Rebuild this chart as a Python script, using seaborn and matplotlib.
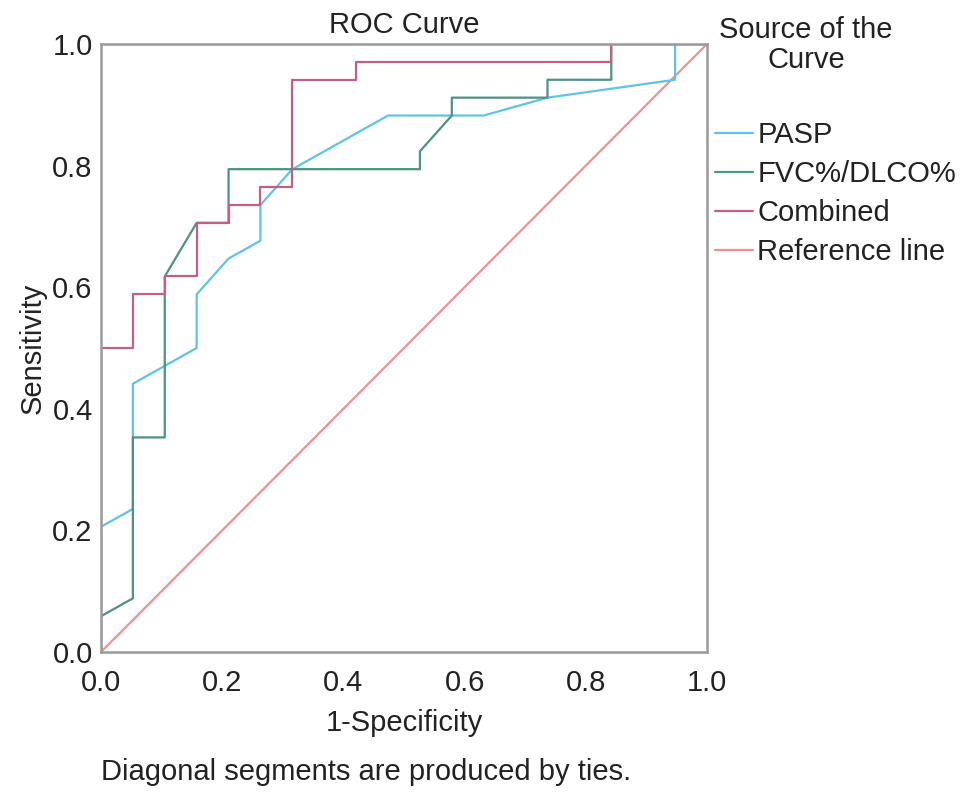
import matplotlib
matplotlib.use("Agg")
import matplotlib.pyplot as plt
import numpy as np
import pandas as pd
import seaborn as sns

# ROC step points, as counts of negatives (19) and positives (34)
n_neg = 19
n_pos = 34

pasp_fp = [0, 0, 1, 1, 3, 3, 4, 5, 5, 6, 9, 12, 14, 18, 18, 19]
pasp_tp = [0, 7, 8, 15, 17, 20, 22, 23, 25, 27, 30, 30, 31, 32, 34, 34]

fvc_fp = [0, 0, 1, 1, 2, 2, 3, 4, 4, 10, 10, 11, 11, 14, 14, 16, 16, 19]
fvc_tp = [0, 2, 3, 12, 12, 21, 24, 24, 27, 27, 28, 30, 31, 31, 32, 32, 34, 34]

comb_fp = [0, 0, 1, 1, 2, 2, 3, 3, 4, 4, 5, 5, 6, 6, 8, 8, 16, 16, 19]
comb_tp = [0, 17, 17, 20, 20, 21, 21, 24, 24, 25, 25, 26, 26, 32, 32, 33, 33, 34, 34]

ref_x = [0.0, 1.0]
ref_y = [0.0, 1.0]

labels = ["PASP", "FVC%/DLCO%", "Combined", "Reference line"]
colors = ["#5fc3e4", "#4d9282", "#c4607f", "#f29090"]

frames = []
for name, fp, tp in [("PASP", pasp_fp, pasp_tp),
                     ("FVC%/DLCO%", fvc_fp, fvc_tp),
                     ("Combined", comb_fp, comb_tp)]:
    frames.append(pd.DataFrame({"x": np.array(fp) / n_neg,
                                "y": np.array(tp) / n_pos,
                                "curve": name}))
frames.append(pd.DataFrame({"x": ref_x, "y": ref_y, "curve": "Reference line"}))
df = pd.concat(frames, ignore_index=True)

sns.set_style("white")
plt.rcParams['font.family'] = ['Liberation Sans', 'DejaVu Sans']
fs = 21
txt = "#222222"

fig = plt.figure(figsize=(9.69, 8), dpi=100)
ax = fig.add_axes([0.1042, 0.185, 0.6254, 0.76])

# reference line first so the curves sit on top
for name in ["Reference line", "PASP", "FVC%/DLCO%", "Combined"]:
    sub = df[df["curve"] == name]
    sns.lineplot(data=sub, x="x", y="y", sort=False, estimator=None,
                 color=colors[labels.index(name)], linewidth=1.6, ax=ax,
                 label=name)

ax.set_xlim(0, 1)
ax.set_ylim(0, 1)
ticks = [0.0, 0.2, 0.4, 0.6, 0.8, 1.0]
ax.set_xticks(ticks)
ax.set_yticks(ticks)
ax.set_xticklabels([f"{t:.1f}" for t in ticks])
ax.set_yticklabels([f"{t:.1f}" for t in ticks])
ax.tick_params(axis="both", length=0, labelsize=fs, colors=txt)
ax.tick_params(axis="x", pad=12)
ax.tick_params(axis="y", pad=6)

for sp in ax.spines.values():
    sp.set_color("#9a9a9a")
    sp.set_linewidth(1.8)

ax.set_xlabel("1-Specificity", fontsize=fs, color=txt, labelpad=9)
ax.set_ylabel("Sensitivity", fontsize=fs, color=txt, labelpad=4)
ax.set_title("ROC Curve", fontsize=fs, color=txt, pad=8)

fig.text(0.378, 0.035, "Diagonal segments are produced by ties.",
         fontsize=fs, color=txt, ha="center", va="center")

# legend title placed on its own, entries below in the reference order
fig.text(0.832, 1 - 45 / 800, "Source of the\nCurve", fontsize=fs,
         color=txt, ha="center", va="center", multialignment="center",
         linespacing=1.12)
handles, lbls = ax.get_legend_handles_labels()
hmap = dict(zip(lbls, handles))
leg = ax.legend([hmap[l] for l in labels], labels, loc="upper left",
                bbox_to_anchor=(715 / 969, 1 - 121 / 800),
                bbox_transform=fig.transFigure, frameon=False, fontsize=fs,
                handlelength=1.3, handletextpad=0.15, labelspacing=0.38,
                borderaxespad=0.0, borderpad=0.0)
for t in leg.get_texts():
    t.set_color(txt)

fig.savefig("out.png", dpi=100)
